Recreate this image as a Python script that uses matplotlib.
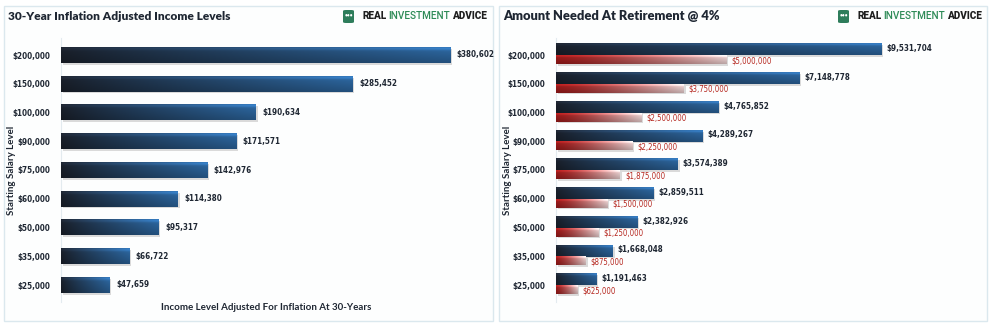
import numpy as np
import matplotlib
matplotlib.use("Agg")
import matplotlib.pyplot as plt
import matplotlib.patches as patches
from matplotlib.colors import to_rgb
import matplotlib.patheffects as pe
from matplotlib import font_manager as fm

plt.rcParams['font.family'] = ['Lato', 'DejaVu Sans']
plt.rcParams['font.weight'] = 'bold'
NARROW = fm.FontProperties(family="DejaVu Sans", stretch="condensed", weight="bold", size=5.8)
NARROW_RED = fm.FontProperties(family="DejaVu Sans", stretch="condensed", weight="normal", size=5.6)

# data
salaries = ["$200,000", "$150,000", "$100,000", "$90,000", "$75,000",
            "$60,000", "$50,000", "$35,000", "$25,000"]
income_30yr = [380602, 285452, 190634, 171571, 142976, 114380, 95317, 66722, 47659]
needed_4pct = [9531704, 7148778, 4765852, 4289267, 3574389, 2859511, 2382926, 1668048, 1191463]
needed_base = [5000000, 3750000, 2500000, 2250000, 1875000, 1500000, 1250000, 875000, 625000]

W, H = 996, 328
fig = plt.figure(figsize=(W / 100, H / 100), dpi=100)
fig.patch.set_facecolor("white")


def px_axes(x0, y0, x1, y1):
    # pixel box (top-left origin) -> figure axes
    return fig.add_axes([x0 / W, 1 - y1 / H, (x1 - x0) / W, (y1 - y0) / H])


def gradient(c_left, c_right, power=1.0, nx=200, ny=24):
    t = np.linspace(0, 1, nx) ** power
    a, b = np.array(to_rgb(c_left)), np.array(to_rgb(c_right))
    row = a[None, :] * (1 - t[:, None]) + b[None, :] * t[:, None]
    s = np.linspace(0, 1, ny)
    shade = 1 + 0.25 * np.exp(-((s - 0.08) / 0.1) ** 2) - 0.25 * s
    img = row[None, :, :] * shade[:, None, None]
    return np.clip(img, 0, 1)


def fill_bars(ax, bars, img):
    for b in bars:
        x0, y0 = b.get_x(), b.get_y()
        ax.imshow(img, extent=[x0, x0 + b.get_width(), y0, y0 + b.get_height()],
                  origin="upper", aspect="auto", zorder=3, interpolation="bilinear")


blue_img = gradient("#1b212c", "#2e6aa5", power=0.9)
red_img = gradient("#a41c1c", "#f7dcdc", power=1.4)
shadow = [pe.SimplePatchShadow(offset=(1.2, -1.2), shadow_rgbFace="#b0b0b0", alpha=0.45), pe.Normal()]

# panel frames
for x0, x1 in [(4, 493), (499, 987)]:
    fig.patches.append(patches.Rectangle((x0 / W, 1 - 321 / H), (x1 - x0) / W, 315 / H,
                                         transform=fig.transFigure, facecolor="#fdfefe",
                                         edgecolor="#dbe8ee", linewidth=1.0, zorder=-5))


def wordmark(xs, y):
    # small green shield + wordmark
    shield = patches.FancyBboxPatch((xs / W, 1 - (y + 7) / H), 11 / W, 13 / H,
                                    boxstyle="round,pad=0,rounding_size=0.003",
                                    transform=fig.transFigure, facecolor="#2e7d5b",
                                    edgecolor="none", zorder=5)
    fig.patches.append(shield)
    fig.text((xs + 5.5) / W, 1 - (y - 1) / H, "\u2022\u2022\u2022", color="white", fontsize=3.5,
             ha="center", va="center", zorder=6)
    fam = ["Roboto", "DejaVu Sans"]
    fig.text((xs + 19) / W, 1 - y / H, "REAL", color="#1f1f1f", fontsize=7.2,
             ha="left", va="center", family=fam, fontweight="black")
    fig.text((xs + 45) / W, 1 - y / H, "INVESTMENT", color="#2e8b57", fontsize=7.2,
             ha="left", va="center", family=fam, fontweight="medium")
    fig.text((xs + 109) / W, 1 - y / H, "ADVICE", color="#1f1f1f", fontsize=7.2,
             ha="left", va="center", family=fam, fontweight="black")


def style_axis(ax, xmax):
    ax.set_xlim(0, xmax)
    ax.set_ylim(-0.6, 8.6)
    ax.set_yticks(ypos)
    ax.set_yticklabels(salaries, color="#1f2733", fontproperties=NARROW)
    ax.set_xticks([])
    ax.tick_params(axis="y", length=0, pad=8)
    for s in ["top", "right", "bottom"]:
        ax.spines[s].set_visible(False)
    ax.spines["left"].set_color("#e3ebef")
    ax.patch.set_alpha(0)


ypos = np.arange(len(salaries))[::-1]

# ---------------- left chart ----------------
axL = px_axes(61, 37.75, 61 + 389 * 400000 / 380602, 302.25)
barsL = axL.barh(ypos, income_30yr, height=0.55, color="#24466b", zorder=2)
fill_bars(axL, barsL, blue_img)
for b in barsL:
    b.set_path_effects(shadow)
for yy, v in zip(ypos, income_30yr):
    axL.text(v + 400000 * 0.016, yy, f"${v:,.0f}", color="#1f2733",
             va="center", ha="left", fontproperties=NARROW)
style_axis(axL, 400000)

fig.text(8 / W, 1 - 16 / H, "30-Year Inflation Adjusted Income Levels", fontsize=8.6,
         color="#1f2733", ha="left", va="center", fontweight="heavy")
fig.text(12 / W, 1 - 170 / H, "Starting Salary Level", rotation=90, fontsize=7,
         color="#1f2733", ha="center", va="center")
fig.text(266 / W, 1 - 307 / H, "Income Level Adjusted For Inflation At 30-Years",
         fontsize=7, color="#1f2733", ha="center", va="center")
wordmark(343, 16)

# ---------------- right chart ----------------
axR = px_axes(556, 37.75, 556 + 325 * 10500000 / 9531704, 302.25)
barsB = axR.barh(ypos + 0.19, needed_4pct, height=0.4, color="#24466b", zorder=2)
barsR = axR.barh(ypos - 0.16, needed_base, height=0.31, color="#b04040", zorder=2)
fill_bars(axR, barsB, blue_img)
fill_bars(axR, barsR, red_img)
for b in list(barsB) + list(barsR):
    b.set_path_effects(shadow)
for yy, v in zip(ypos, needed_4pct):
    axR.text(v + 10500000 * 0.014, yy + 0.22, f"${v:,.0f}", color="#1f2733",
             va="center", ha="left", fontproperties=NARROW)
for yy, v in zip(ypos, needed_base):
    axR.text(v + 10500000 * 0.014, yy - 0.2, f"${v:,.0f}", color="#b5261e",
             va="center", ha="left", fontproperties=NARROW_RED)
style_axis(axR, 10500000)

fig.text(503 / W, 1 - 16 / H, "Amount Needed At Retirement @ 4%", fontsize=9.3,
         color="#1f2733", ha="left", va="center", fontweight="heavy")
fig.text(508 / W, 1 - 170 / H, "Starting Salary Level", rotation=90, fontsize=7,
         color="#1f2733", ha="center", va="center")
wordmark(838, 16)

fig.savefig("out.png", dpi=100)
